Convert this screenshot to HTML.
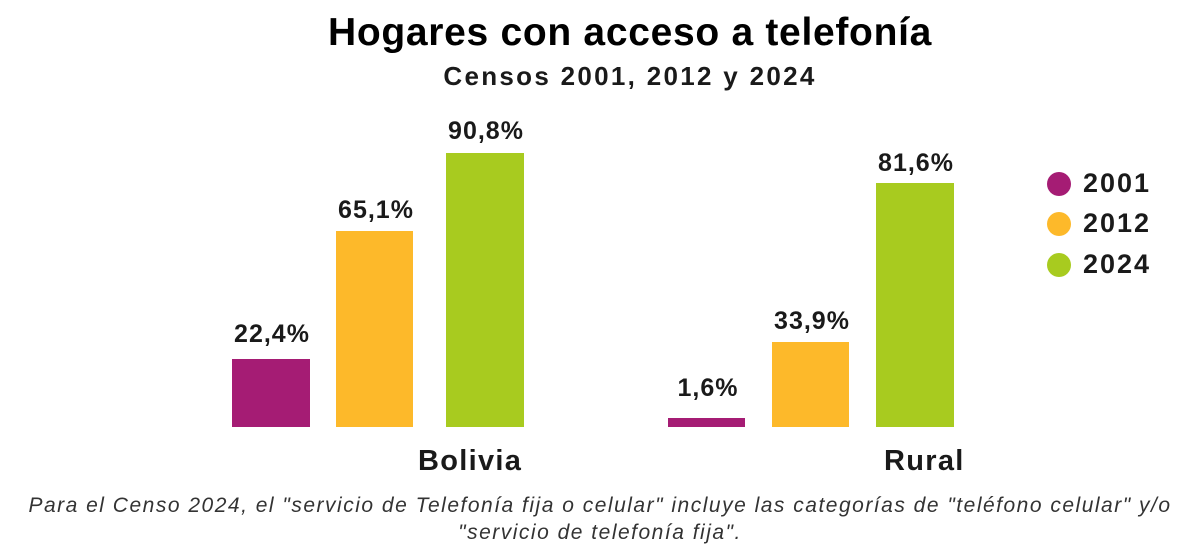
<!DOCTYPE html>
<html><head><meta charset="utf-8"><style>
body{margin:0;width:1200px;height:552px;background:#fff;position:relative;overflow:hidden;font-family:"Liberation Sans",sans-serif;color:#1a1a1a}
.a{position:absolute}
.b{position:absolute}
.p{background:#A51C74}.o{background:#FDB92A}.g{background:#A8CB1F}
.l{position:absolute;font-weight:bold;font-size:25px;width:130px;text-align:center;letter-spacing:1px}
.c{position:absolute;font-weight:bold;font-size:29px;letter-spacing:1.3px}
.d{position:absolute;width:24px;height:24px;border-radius:50%}
.t{position:absolute;font-weight:bold;font-size:27px;letter-spacing:2px}
</style></head><body>
<div class="a" style="left:0;width:1260px;top:11px;text-align:center;font-size:39px;font-weight:bold;color:#000;letter-spacing:0.7px">Hogares con acceso a telefonía</div>
<div class="a" style="left:0;width:1260px;top:61px;text-align:center;font-size:26px;font-weight:bold;color:#1a1a1a;letter-spacing:2.3px">Censos 2001, 2012 y 2024</div>

<div class="b p" style="left:232px;top:359px;width:78px;height:68px"></div>
<div class="b o" style="left:336px;top:231px;width:77px;height:196px"></div>
<div class="b g" style="left:446px;top:153px;width:78px;height:274px"></div>
<div class="b p" style="left:668px;top:418px;width:77px;height:9px"></div>
<div class="b o" style="left:772px;top:342px;width:77px;height:85px"></div>
<div class="b g" style="left:876px;top:183px;width:78px;height:244px"></div>

<div class="l" style="left:207px;top:320px">22,4%</div>
<div class="l" style="left:311px;top:196px">65,1%</div>
<div class="l" style="left:421px;top:117px">90,8%</div>
<div class="l" style="left:643px;top:374px">1,6%</div>
<div class="l" style="left:747px;top:307px">33,9%</div>
<div class="l" style="left:851px;top:149px">81,6%</div>

<div class="c" style="left:418px;top:445px">Bolivia</div>
<div class="c" style="left:884px;top:445px">Rural</div>

<div class="d p" style="left:1047px;top:172px"></div><div class="t" style="left:1083px;top:168px">2001</div>
<div class="d o" style="left:1047px;top:212px"></div><div class="t" style="left:1083px;top:208px">2012</div>
<div class="d g" style="left:1047px;top:253px"></div><div class="t" style="left:1083px;top:249px">2024</div>

<div class="a" style="left:-20px;width:1240px;top:492px;text-align:center;font-size:21px;font-style:italic;color:#333;line-height:27px;letter-spacing:1.5px">Para el Censo 2024, el "servicio de Telefonía fija o celular" incluye las categorías de "teléfono celular" y/o<br>"servicio de telefonía fija".</div>
</body></html>
